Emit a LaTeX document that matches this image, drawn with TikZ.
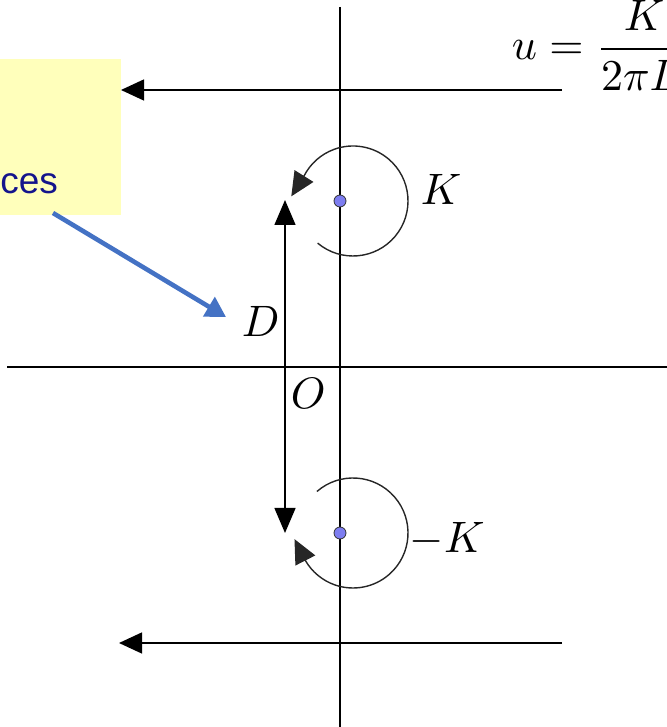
\documentclass[tikz,border=0pt]{standalone}
\usepackage{fontspec}
\newfontfamily\notefont{Liberation Sans}
\usetikzlibrary{arrows.meta}
\definecolor{noteyellow}{RGB}{255,255,187}
\definecolor{notetext}{RGB}{20,20,140}
\definecolor{pointblue}{RGB}{68,114,196}
\definecolor{dotblue}{RGB}{125,125,240}
\tikzset{
  axisline/.style={black, line width=0.7pt},
  flowline/.style={black, line width=0.7pt, -{Triangle[length=11.5pt,width=10.5pt]}},
  vortexarc/.style={black!85, line width=0.7pt, -{Triangle[length=12pt,width=11pt]}},
  pointer/.style={pointblue, line width=2.3pt, -{Triangle[length=10pt,width=11pt]}},
  lbl/.style={anchor=base west, inner sep=0pt, scale=2.2},
  vdot/.style={circle, fill=dotblue, draw=black!80, line width=0.4pt, minimum size=6pt, inner sep=0pt},
}
\begin{document}
\begin{tikzpicture}[x=0.5pt,y=0.5pt]
    \useasboundingbox (0,0) rectangle (667,727);
    \clip (0,0) rectangle (667,727);
    % Khung ghi chu
    \fill[noteyellow] (-20,512) rectangle (121,668);
    \node[anchor=base west, inner sep=0pt, text=notetext, font=\notefont\fontsize{18.5}{22}\selectfont] (note) at (0,533) {ces};
    
    % Truc toa do
    \draw[axisline] (340,720) -- (340,0);
    \draw[axisline] (7,360) -- (667,360);
    
    % Dong chay deu
    \foreach \y/\xa/\xb in {637/562/121, 84/562/119}
    \draw[flowline] (\xa,\y) -- (\xb,\y);
    
    % Hai xoay
    \coordinate (cA) at (353,526);
    \coordinate (cB) at (353,194);
    \draw[vortexarc] (cA) ++(230:27.5pt) arc[start angle=230, end angle=513, radius=27.5pt] -- ++(238:12pt);
    \draw[vortexarc] (cB) ++(131:27.5pt) arc[start angle=131, end angle=-150, radius=27.5pt] -- ++(117:12pt);
    \node[vdot] (kA) at (340,526) {};
    \node[vdot] (kB) at (340,194) {};
    
    % Khoang cach D
    \coordinate (dTop) at (285,527);
    \coordinate (dBot) at (285,194);
    \draw[axisline, {Triangle[length=12.5pt,width=10.5pt]}-{Triangle[length=12.5pt,width=10.5pt]}] (dTop) -- (dBot);
    
    % Nhan
    \node[lbl] (lK) at (420,522) {$K$};
    \node[lbl] (lmK) at (409,174) {$-K$};
    \node[lbl] (lD) at (241,390) {$D$};
    \node[lbl] (lO) at (290,318) {$O$};
    \node[lbl] (vel) at (511,667) {$\displaystyle u=\frac{K}{2\pi D}$};
    
    % Mui ten chi
    \coordinate (noteFoot) at (53,514);
    \coordinate (dMark) at (226,410);
    \draw[pointer] (noteFoot) -- (dMark);
\end{tikzpicture}
\end{document}
